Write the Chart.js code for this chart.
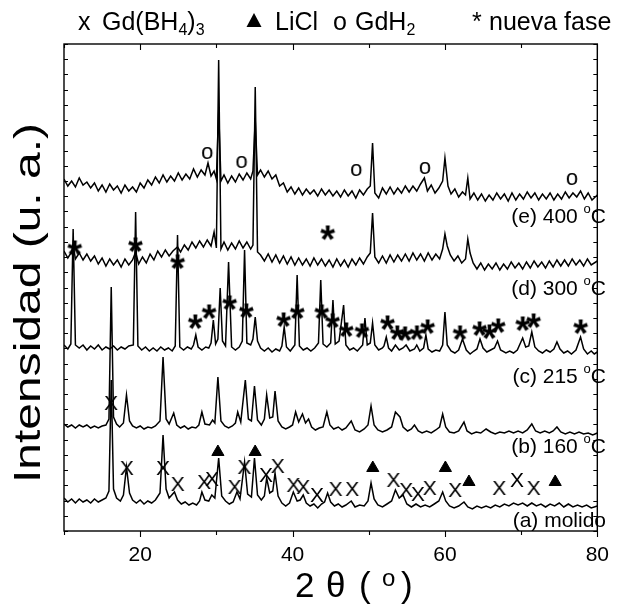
<!DOCTYPE html>
<html><head><meta charset="utf-8">
<script src="https://cdn.jsdelivr.net/npm/chart.js@4.4.1/dist/chart.umd.min.js"></script>
<style>html,body{margin:0;padding:0;background:#fff;}canvas{display:block;}</style>
</head><body>
<canvas id="c" width="621" height="605"></canvas>
<script>
// ---- data: [2theta, intensity (a.u., stacked)] ----
const traceE = [[10,352],[10.5,345],[11,350],[11.5,344],[12,353],[12.5,346],[13,349],[13.5,343],[14,348],[14.5,340],[15,346],[15.5,339],[16,347],[16.5,341],[17,345],[17.5,338],[18,346],[18.5,340],[19,344],[19.5,339],[20,348],[20.5,343],[21,351],[21.5,346],[22,354],[22.5,348],[23,356],[23.5,349],[24,355],[24.5,350],[25,358],[25.5,351],[26,357],[26.5,352],[27,362],[27.5,354],[28,361],[28.5,356],[28.9,368],[29.3,355],[29.7,360],[30.0,352],[30.3,421],[30.6,350],[31,356],[31.5,348],[32,355],[32.5,349],[33,357],[33.5,351],[34,358],[34.5,352],[34.8,360],[35.1,411],[35.4,356],[35.8,361],[36.3,354],[36.8,360],[37.3,352],[37.8,356],[38.3,345],[38.8,348],[39.3,339],[39.8,344],[40.3,337],[40.8,343],[41.3,336],[41.8,342],[42.3,337],[42.8,341],[43.3,335],[43.8,342],[44.3,336],[44.8,341],[45.3,335],[45.8,340],[46.3,334],[46.8,341],[47.3,335],[47.8,340],[48.3,333],[48.8,341],[49.3,336],[49.8,342],[50.2,345],[50.5,388],[50.8,338],[51.3,333],[51.8,343],[52.3,337],[52.8,344],[53.3,337],[53.8,343],[54.3,338],[54.8,345],[55.3,339],[55.8,345],[56.3,340],[56.8,347],[57.3,353],[57.7,340],[58.2,346],[58.7,338],[59.2,343],[59.7,350],[60.0,373],[60.4,345],[60.8,337],[61.3,342],[61.8,334],[62.3,339],[62.7,336],[63.0,353],[63.3,332],[63.8,338],[64.3,331],[64.8,337],[65.3,330],[65.8,336],[66.3,331],[66.8,338],[67.3,332],[67.8,337],[68.3,330],[68.8,338],[69.3,331],[69.8,337],[70.3,332],[70.8,339],[71.3,333],[71.8,338],[72.3,331],[72.8,337],[73.3,332],[73.8,338],[74.3,331],[74.8,337],[75.3,332],[75.8,339],[76.3,333],[76.8,338],[77.3,334],[77.8,340],[78.3,332],[78.8,338],[79.3,331],[80,336]];
const traceD = [[10,280],[10.5,273],[11,279],[11.2,286],[11.5,272],[12,278],[12.5,271],[13,277],[13.5,270],[14,275],[14.5,267],[15,273],[15.5,265],[16,272],[16.5,266],[17,271],[17.5,264],[18,272],[18.5,266],[19,271],[19.4,279],[19.8,267],[20.3,274],[20.8,268],[21.3,277],[21.8,271],[22.3,280],[22.8,274],[23.3,281],[23.8,275],[24.3,280],[24.9,284],[25.3,279],[25.8,286],[26.3,281],[26.8,289],[27.3,283],[27.8,290],[28.3,284],[28.8,291],[29.3,285],[29.7,299],[30.0,283],[30.3,471],[30.6,282],[31,289],[31.5,281],[32,288],[32.5,282],[33,290],[33.5,283],[34,289],[34.5,282],[34.8,286],[35.1,444],[35.4,279],[35.8,276],[36.3,270],[36.8,277],[37.3,269],[37.8,276],[38.3,268],[38.8,275],[39.3,267],[39.8,274],[40.3,266],[40.8,273],[41.3,266],[41.8,272],[42.3,265],[42.8,273],[43.3,266],[43.8,272],[44.3,265],[44.8,271],[45.3,264],[45.8,272],[46.3,265],[46.8,271],[47.3,264],[47.8,272],[48.3,266],[48.8,273],[49.3,267],[49.8,274],[50.2,278],[50.5,318],[50.8,274],[51.3,268],[51.8,275],[52.3,268],[52.8,276],[53.3,269],[53.8,276],[54.3,270],[54.8,277],[55.3,270],[55.8,278],[56.3,271],[56.8,277],[57.3,270],[57.8,278],[58.3,271],[58.8,277],[59.3,272],[59.7,282],[60.0,297],[60.3,285],[60.7,276],[61.2,270],[61.7,275],[62.2,268],[62.7,272],[63.0,292],[63.3,278],[63.7,268],[64.2,262],[64.7,268],[65.2,261],[65.7,267],[66.2,262],[66.7,268],[67.2,261],[67.7,267],[68.2,262],[68.7,269],[69.2,263],[69.7,268],[70.2,262],[70.7,269],[71.2,263],[71.7,270],[72.2,264],[72.7,269],[73.2,263],[73.7,270],[74.2,264],[74.7,271],[75.2,265],[75.7,271],[76.2,265],[76.7,272],[77.2,266],[77.7,271],[78.2,265],[78.7,272],[79.2,266],[80,270]];
const traceC = [[10,186],[10.5,182],[10.9,187],[11.2,302],[11.5,186],[12,183],[12.5,186],[13,181],[13.5,185],[14,182],[14.5,186],[15,181],[15.5,184],[16,182],[16.5,185],[17,181],[17.5,184],[18,182],[18.5,185],[19.1,186],[19.4,319],[19.7,185],[20.2,181],[20.7,184],[21.2,180],[21.7,183],[22.2,180],[22.7,184],[23.2,181],[23.7,183],[24.2,180],[24.6,185],[24.9,296],[25.2,184],[25.7,181],[26.2,184],[26.7,182],[27.0,186],[27.3,196],[27.6,184],[28.1,181],[28.6,184],[29.0,183],[29.3,188],[29.6,211],[29.9,187],[30.2,192],[30.5,243],[30.8,190],[31.2,185],[31.6,269],[32.0,184],[32.5,181],[33.0,184],[33.4,190],[33.7,281],[34.0,188],[34.5,186],[34.8,192],[35.1,214],[35.4,190],[35.8,183],[36.3,180],[36.8,183],[37.3,179],[37.8,182],[38.3,180],[38.6,185],[38.9,204],[39.2,184],[39.7,180],[40.3,186],[40.6,256],[40.9,185],[41.4,181],[41.9,183],[42.4,180],[42.9,183],[43.4,188],[43.7,251],[44.0,187],[44.5,184],[45.0,188],[45.3,231],[45.6,187],[46.1,190],[46.7,226],[47.0,186],[47.5,181],[48.0,183],[48.5,180],[49.2,186],[49.5,213],[49.8,186],[50.2,188],[50.5,208],[50.8,186],[51.3,181],[51.8,183],[52.0,185],[52.3,194],[52.6,183],[53.0,180],[53.5,186],[54.0,181],[54.5,183],[54.9,186],[55.4,180],[56.0,182],[56.3,186],[56.7,180],[57.2,183],[57.5,196],[57.8,182],[58.3,179],[58.8,181],[59.3,180],[59.7,186],[60.0,219],[60.3,186],[60.8,180],[61.3,178],[61.8,181],[62.3,192],[62.8,181],[63.3,177],[63.8,180],[64.2,182],[64.6,192],[65.0,183],[65.5,179],[66.0,181],[66.5,183],[66.9,190],[67.3,181],[68.0,178],[68.5,180],[69.0,178],[69.5,181],[70.2,193],[70.6,184],[71.0,185],[71.4,199],[71.8,184],[72.3,180],[72.8,178],[73.3,181],[73.8,179],[74.3,182],[74.7,189],[75.1,182],[75.6,178],[76.1,180],[76.6,177],[77.2,181],[77.8,194],[78.2,182],[78.7,177],[79.2,180],[79.6,177],[80,179]];
const traceB = [[10,107],[10.5,104],[11,106],[11.5,103],[12,106],[12.5,104],[13,106],[13.5,103],[14,105],[14.5,103],[15,105],[15.5,106],[15.9,112],[16.2,244],[16.5,114],[16.9,107],[17.3,104],[17.8,108],[18.2,136],[18.6,110],[19.0,105],[19.5,103],[20,105],[20.5,102],[21,104],[21.5,103],[22,105],[22.6,110],[23.0,174],[23.4,112],[23.8,107],[24.4,118],[24.8,106],[25.3,103],[25.8,105],[26.3,102],[26.8,104],[27.3,103],[27.7,106],[28.1,119],[28.5,107],[29.1,106],[29.5,111],[29.8,108],[30.2,154],[30.6,110],[31.1,105],[31.6,103],[32.1,105],[32.5,108],[32.8,119],[33.2,109],[33.8,151],[34.2,112],[34.6,110],[35.0,145],[35.4,111],[35.9,106],[36.3,112],[36.6,136],[37.0,113],[37.4,114],[37.7,140],[38.1,110],[38.6,104],[39.1,102],[39.6,104],[40.0,106],[40.4,119],[40.8,109],[41.3,117],[41.7,108],[42.1,112],[42.5,104],[43.0,101],[43.5,103],[44.0,104],[44.5,119],[44.9,106],[45.4,102],[46.0,104],[46.5,101],[47.0,103],[47.7,110],[48.2,101],[48.8,99],[49.4,102],[49.9,106],[50.3,125],[50.7,106],[51.2,101],[51.8,99],[52.4,101],[53.0,104],[53.5,119],[54.1,114],[54.5,104],[55.1,100],[55.6,102],[56.0,106],[56.5,100],[57.0,98],[57.6,100],[58.2,98],[58.8,101],[59.3,104],[59.7,117],[60.1,104],[60.6,99],[61.2,98],[61.8,100],[62.5,109],[62.9,100],[63.5,97],[64.1,99],[64.7,98],[65.4,102],[66.0,99],[66.6,97],[67.2,99],[67.8,98],[68.4,100],[69.0,98],[69.6,100],[70.2,98],[70.8,101],[71.4,107],[71.9,100],[72.5,98],[73.1,100],[73.7,98],[74.2,100],[74.7,104],[75.2,99],[75.8,97],[76.4,99],[77.0,97],[77.6,99],[78.2,97],[78.8,98],[79.4,96],[80,98]];
const traceA = [[10,33],[10.5,29],[11,32],[11.5,28],[12,32],[12.5,29],[13,31],[13.5,28],[14,32],[14.5,29],[15,31],[15.5,33],[15.9,40],[16.2,151],[16.5,42],[16.9,33],[17.4,30],[17.8,36],[18.2,64],[18.6,38],[19.0,31],[19.5,28],[20,31],[20.5,27],[21,30],[21.5,28],[22,31],[22.6,38],[23.0,96],[23.4,42],[23.8,33],[24.5,39],[24.9,31],[25.4,27],[25.9,29],[26.4,26],[26.9,28],[27.4,26],[27.8,30],[28.1,39],[28.5,31],[29.0,30],[29.4,36],[29.8,33],[30.3,73],[30.7,35],[31.2,30],[31.7,27],[32.2,29],[32.7,39],[33.1,32],[33.7,69],[34.1,37],[34.6,34],[35.0,73],[35.4,36],[35.9,31],[36.3,35],[36.6,53],[37.0,38],[37.4,40],[37.7,58],[38.1,35],[38.6,28],[39.1,25],[39.6,28],[40.1,39],[40.6,30],[41.0,31],[41.4,36],[41.8,28],[42.3,25],[42.8,27],[43.3,23],[43.8,27],[44.2,29],[44.6,38],[45.0,29],[45.5,25],[46.0,27],[46.5,24],[47.0,26],[47.7,30],[48.2,24],[48.8,26],[49.4,25],[49.9,30],[50.3,48],[50.7,32],[51.2,26],[51.8,24],[52.4,27],[53.0,30],[53.5,41],[54.0,33],[54.5,36],[55.0,27],[55.6,24],[56.2,27],[56.8,24],[57.4,26],[58.0,24],[58.6,27],[59.2,30],[59.7,39],[60.1,30],[60.6,25],[61.2,23],[61.8,25],[62.5,29],[63.0,24],[63.6,22],[64.2,25],[64.8,23],[65.4,25],[66.0,23],[66.6,26],[67.2,24],[67.8,27],[68.4,25],[69.0,28],[69.6,26],[70.2,28],[70.8,25],[71.4,28],[72.0,25],[72.6,27],[73.2,24],[73.8,27],[74.4,25],[75.0,28],[75.6,24],[76.2,27],[76.8,24],[77.4,26],[78.0,24],[78.6,26],[79.2,23],[80,25]];

// phase markers [2theta, height]
const markGdBH4 = [[16.18,128],[18.24,63],[23.0,63],[24.93,47],[28.4,49],[29.43,52],[32.39,44],[33.68,64],[36.51,56],[38.05,65],[40.11,46],[41.4,44],[43.2,36],[45.65,42],[47.83,42],[53.24,51],[54.91,41],[56.45,37],[58.0,43],[61.34,41],[67.13,43],[69.45,51],[71.64,43]];
const markLiCl = [[30.2,79],[35.09,79],[50.53,63],[60.06,63],[63.15,49],[74.47,49]];
const markGdH2 = [[28.79,378],[33.29,369],[48.35,361],[57.36,363],[76.66,352]];
const markNueva = [[11.42,283],[19.39,286],[24.93,269],[27.24,209],[29.05,219],[31.75,228],[33.94,220],[38.83,211],[40.63,219],[43.84,219],[45.26,210],[47.06,201],[49.12,200],[52.47,208],[53.75,198],[54.78,197],[56.33,198],[57.74,204],[61.99,198],[64.56,202],[65.85,199],[67.0,205],[70.22,207],[71.64,210],[77.82,204],[44.62,298]];

const xTickValues = [10,20,30,40,50,60,70,80];
const xTickLabels = ['', '20', '', '40', '', '60', '', '80'];
const traceNames = ['(e) 400 ', '(d) 300 ', '(c) 215 ', '(b) 160 ', '(a) molido'];
const traceDegree = [true, true, true, true, false];
const legendItems = ['x', 'Gd(BH', '4', ')', '3', 'LiCl', 'o', 'GdH', '2', '*', 'nueva fase'];
const xTitle = ['2', 'θ', '(', 'o', ')'];
const yTitle = 'Intensidad (u. a.)';

const FONT = '"Liberation Sans", Arial, sans-serif';

function glyph(text, font) {
  const m = document.createElement('canvas').getContext('2d');
  m.font = font;
  const t = m.measureText(text);
  const l = t.actualBoundingBoxLeft, r = t.actualBoundingBoxRight;
  const a = t.actualBoundingBoxAscent, d = t.actualBoundingBoxDescent;
  const w = Math.ceil(l + r) + 2, h = Math.ceil(a + d) + 2;
  const c = document.createElement('canvas');
  c.width = w; c.height = h;
  const g = c.getContext('2d');
  g.font = font; g.fillStyle = '#000';
  g.fillText(text, 1 + l, 1 + a);
  return c;
}

const gX = glyph('X', '21px ' + FONT);
const gO = glyph('o', '22px ' + FONT);
const gStar = glyph('*', 'bold 38px ' + FONT);

const lineDs = (data) => ({type: 'line', data, borderColor: '#000', borderWidth: 1.5, pointRadius: 0, tension: 0, order: 1, fill: false});
const markDs = (data, style, extra) => Object.assign({type: 'scatter', data, pointStyle: style, pointRadius: 6, borderColor: '#000', backgroundColor: '#000', order: 0, showLine: false}, extra || {});

const framePlugin = {
  id: 'frame',
  afterDraw(chart) {
    const {ctx, chartArea: {left, right, top, bottom}, scales: {x, y}} = chart;
    ctx.save();
    ctx.strokeStyle = '#000';
    ctx.lineWidth = 1.4;
    ctx.strokeRect(left, top, right - left, bottom - top);
    ctx.lineWidth = 1.1;
    ctx.beginPath();
    xTickValues.forEach(v => {
      const px = Math.round(x.getPixelForValue(v)) + 0.5;
      const L = (v % 20 === 0) ? 6 : 4;
      ctx.moveTo(px, bottom); ctx.lineTo(px, bottom + L);
      ctx.moveTo(px, top); ctx.lineTo(px, top + L);
    });
    const n = 32, step = (y.max - y.min) / n;
    for (let k = 0; k <= n; k++) {
      const py = Math.round(y.getPixelForValue(y.min + k * step)) + 0.5;
      ctx.moveTo(left, py); ctx.lineTo(left + 4, py);
      ctx.moveTo(right, py); ctx.lineTo(right - 4, py);
    }
    ctx.stroke();

    ctx.fillStyle = '#000';
    ctx.textBaseline = 'alphabetic';
    // trace labels (right aligned)
    const baseY = [223, 295, 383, 453, 527];
    traceNames.forEach((name, i) => {
      ctx.font = '21px ' + FONT;
      const wMain = ctx.measureText(name).width;
      let wDeg = 0, wC = 0;
      if (traceDegree[i]) {
        ctx.font = '13px ' + FONT; wDeg = ctx.measureText('o').width;
        ctx.font = '21px ' + FONT; wC = ctx.measureText('C').width;
      }
      const endX = 606;
      let sx = endX - wMain - wDeg - wC;
      ctx.font = '21px ' + FONT;
      ctx.fillText(name, sx, baseY[i]);
      if (traceDegree[i]) {
        ctx.font = '13px ' + FONT;
        ctx.fillText('o', sx + wMain, baseY[i] - 10);
        ctx.font = '21px ' + FONT;
        ctx.fillText('C', sx + wMain + wDeg, baseY[i]);
      }
    });

    // top legend
    const LB = 30, MF = '25px ' + FONT, SF = '16px ' + FONT;
    ctx.font = MF;
    ctx.fillText(legendItems[0], 78, LB);
    ctx.fillText(legendItems[1], 102, LB);
    let w1 = ctx.measureText(legendItems[1]).width;
    ctx.font = SF;
    ctx.fillText(legendItems[2], 102 + w1, LB + 5);
    let w2 = ctx.measureText(legendItems[2]).width;
    ctx.font = MF;
    ctx.fillText(legendItems[3], 102 + w1 + w2, LB);
    let w3 = ctx.measureText(legendItems[3]).width;
    ctx.font = SF;
    ctx.fillText(legendItems[4], 102 + w1 + w2 + w3, LB + 5);
    // triangle symbol
    ctx.beginPath();
    ctx.moveTo(254, 13); ctx.lineTo(261.5, 27); ctx.lineTo(246.5, 27); ctx.closePath(); ctx.fill();
    ctx.font = MF;
    ctx.fillText(legendItems[5], 275, LB);
    ctx.fillText(legendItems[6], 333, LB);
    ctx.fillText(legendItems[7], 355, LB);
    let w7 = ctx.measureText(legendItems[7]).width;
    ctx.font = SF;
    ctx.fillText(legendItems[8], 355 + w7, LB + 5);
    ctx.font = MF;
    ctx.fillText(legendItems[9], 472, LB);
    ctx.fillText(legendItems[10], 489, LB);

    // x title
    ctx.font = '35px ' + FONT;
    ctx.fillText(xTitle[0], 295, 597);
    ctx.fillText(xTitle[1], 326, 597);
    ctx.fillText(xTitle[2], 359, 597);
    ctx.font = '24px ' + FONT;
    ctx.fillText(xTitle[3], 382, 586);
    ctx.font = '35px ' + FONT;
    ctx.fillText(xTitle[4], 401, 597);

    // y title
    ctx.save();
    ctx.translate(30, 303);
    ctx.rotate(-Math.PI / 2);
    ctx.font = '36px ' + FONT;
    const wy = ctx.measureText(yTitle).width;
    ctx.scale(360 / wy, 1);
    ctx.textAlign = 'center';
    ctx.textBaseline = 'middle';
    ctx.fillText(yTitle, 0, 0);
    ctx.restore();
    ctx.restore();
  }
};

new Chart(document.getElementById('c'), {
  data: {
    datasets: [
      markDs(markGdBH4, gX),
      markDs(markLiCl, 'triangle', {pointRadius: 7}),
      markDs(markGdH2, gO),
      markDs(markNueva, gStar),
      lineDs(traceE), lineDs(traceD), lineDs(traceC), lineDs(traceB), lineDs(traceA)
    ]
  },
  options: {
    responsive: false,
    animation: false,
    devicePixelRatio: 1,
    events: [],
    layout: {padding: {top: 44, right: 13, left: 0, bottom: 0}},
    plugins: {legend: {display: false}, tooltip: {enabled: false}},
    scales: {
      x: {
        type: 'linear', min: 10, max: 80, position: 'bottom',
        afterFit: s => { s.height = 74; },
        afterBuildTicks: s => { s.ticks = xTickValues.map(v => ({value: v})); },
        ticks: {
          autoSkip: false, maxRotation: 0, padding: 12,
          callback: (v) => { const i = xTickValues.indexOf(v); return i >= 0 ? xTickLabels[i] : ''; },
          font: {size: 21, family: FONT}, color: '#000'
        },
        grid: {display: false, drawTicks: false},
        border: {display: false}
      },
      y: {
        type: 'linear', min: 0, max: 487,
        afterFit: s => { s.width = 64; },
        ticks: {display: false},
        grid: {display: false, drawTicks: false},
        border: {display: false}
      }
    }
  },
  plugins: [framePlugin]
});
</script>
</body></html>
